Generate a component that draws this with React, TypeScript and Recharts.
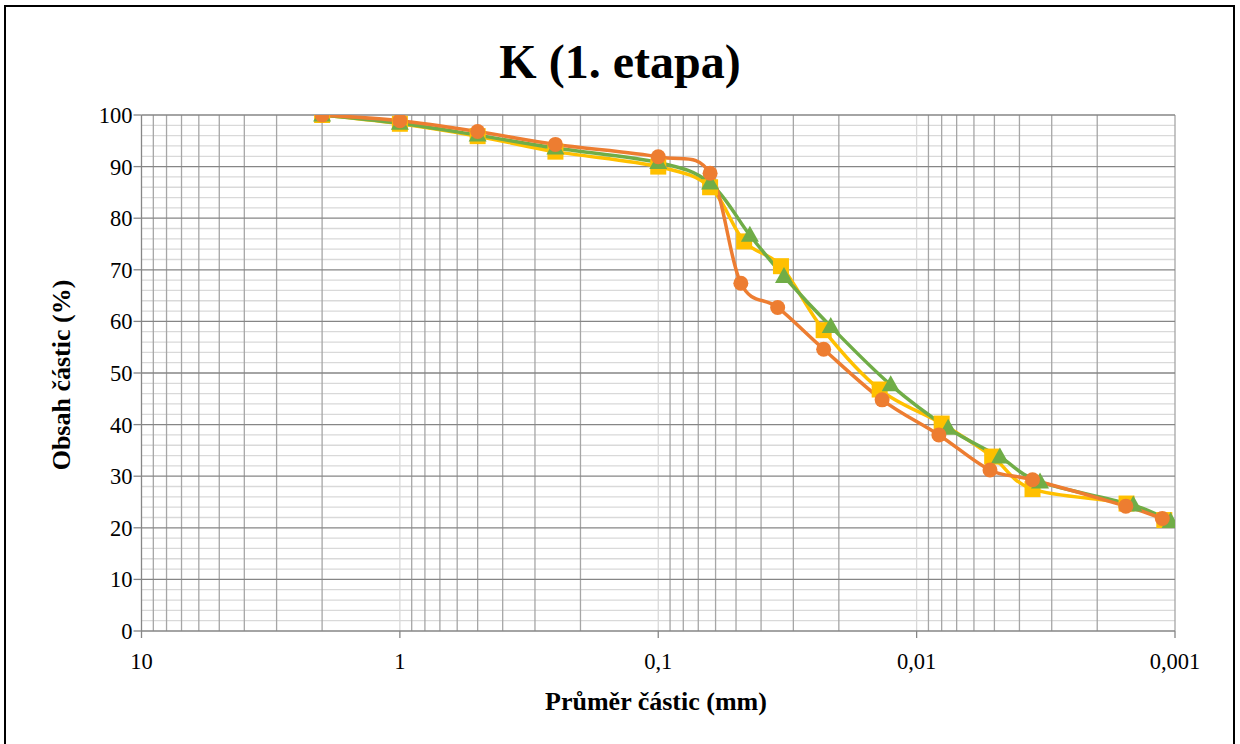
import React from 'react';
import { LineChart, Line, XAxis, YAxis, CartesianGrid } from 'recharts';

// ---- data (particle diameter in mm, content in %) ----
const sieveSizes = [2, 1, 0.5, 0.25, 0.1, 0.063];

const yellowSizes = [...sieveSizes, 0.0465, 0.0335, 0.0229, 0.0139, 0.008, 0.0051, 0.00356, 0.00154, 0.0011];
const yellowValues = [100, 98.3, 95.9, 92.9, 90.0, 86.0, 75.5, 70.7, 58.3, 46.8, 40.2, 33.8, 27.5, 24.7, 21.5];

const orangeSizes = [...sieveSizes, 0.0479, 0.0345, 0.0229, 0.0136, 0.0082, 0.0052, 0.00356, 0.00155, 0.00112];
const orangeValues = [100, 98.9, 96.8, 94.3, 91.9, 88.7, 67.4, 62.7, 54.6, 44.8, 38.0, 31.2, 29.3, 24.2, 21.8];

const greenSizes = [...sieveSizes, 0.0442, 0.0326, 0.0215, 0.0126, 0.00755, 0.00476, 0.00333, 0.00145, 0.00104];
const greenValues = [100, 98.4, 96.1, 93.6, 90.8, 86.8, 76.7, 68.7, 59.0, 47.7, 39.3, 33.7, 28.9, 24.4, 21.2];

const xTicks = [10, 1, 0.1, 0.01, 0.001];
const yTicks = [0, 10, 20, 30, 40, 50, 60, 70, 80, 90, 100];
const decadeLines = [1, 0.1, 0.01];
const minorMultipliers = [2, 3, 4, 5, 6, 7, 8, 9];
const minorDecades = [1, 0.1, 0.01, 0.001];
const yMinor = [2, 4, 6, 8, 12, 14, 16, 18, 22, 24, 26, 28, 32, 34, 36, 38, 42, 44, 46, 48, 52, 54, 56, 58, 62, 64, 66, 68, 72, 74, 76, 78, 82, 84, 86, 88, 92, 94, 96, 98];
const yMajor = [10, 20, 30, 40, 50, 60, 70, 80, 90, 100];

const toSeries = (sizes: number[], values: number[]) => sizes.map((d, i) => ({ d, p: values[i] }));
const yellowData = toSeries(yellowSizes, yellowValues);
const orangeData = toSeries(orangeSizes, orangeValues);
const greenData = toSeries(greenSizes, greenValues);
const xMinor: number[] = [];
minorDecades.forEach((dec) => minorMultipliers.forEach((m) => xMinor.push(+(m * dec).toPrecision(3))));
xMinor.push(0.001);

// Excel-like smoothed line (Catmull-Rom style Bezier)
const excelSmooth = (context: any) => {
  let pts: number[][] = [];
  return {
    areaStart() {},
    areaEnd() {},
    lineStart() {
      pts = [];
    },
    point(x: number, y: number) {
      pts.push([+x, +y]);
    },
    lineEnd() {
      const n = pts.length;
      if (!n) return;
      context.moveTo(pts[0][0], pts[0][1]);
      for (let i = 0; i < n - 1; i++) {
        const p0 = pts[Math.max(0, i - 1)];
        const p1 = pts[i];
        const p2 = pts[i + 1];
        const p3 = pts[Math.min(n - 1, i + 2)];
        const t = 1 / 6;
        context.bezierCurveTo(
          p1[0] + (p2[0] - p0[0]) * t,
          p1[1] + (p2[1] - p0[1]) * t,
          p2[0] - (p3[0] - p1[0]) * t,
          p2[1] - (p3[1] - p1[1]) * t,
          p2[0],
          p2[1]
        );
      }
    },
  };
};

const YELLOW = '#FFC000';
const ORANGE = '#ED7D31';
const GREEN = '#70AD47';

const SquareDot = (props: any) => {
  const { cx, cy, index } = props;
  if (cx == null || cy == null) return <g key={`sq-${index}`} />;
  return <rect key={`sq-${index}`} x={cx - 8} y={cy - 8} width={16} height={16} fill={YELLOW} />;
};

const TriangleDot = (props: any) => {
  const { cx, cy, index } = props;
  if (cx == null || cy == null) return <g key={`tr-${index}`} />;
  return (
    <polygon
      key={`tr-${index}`}
      points={`${cx},${cy - 9.5} ${cx - 9},${cy + 6.5} ${cx + 9},${cy + 6.5}`}
      fill={GREEN}
    />
  );
};

const serif = '"Times New Roman", "Liberation Serif", serif';
const fmt = (v: number) => String(v).replace('.', ',');

export default function App() {
  return (
    <div
      style={{
        position: 'absolute',
        left: 0,
        top: 0,
        width: 1240,
        height: 744,
        overflow: 'hidden',
        background: '#fff',
        fontFamily: serif,
      }}
    >
      <div
        style={{
          position: 'absolute',
          left: 4,
          top: 5,
          width: 1231,
          height: 760,
          border: '2px solid #000',
          boxSizing: 'border-box',
        }}
      />
      <div
        style={{
          position: 'absolute',
          left: 0,
          top: 30,
          width: 1240,
          textAlign: 'center',
          fontSize: 48,
          fontWeight: 'bold',
          lineHeight: '64px',
          fontFamily: serif,
        }}
      >
        K (1. etapa)
      </div>
      <div
        style={{
          position: 'absolute',
          left: 0,
          top: 687,
          width: 1312,
          textAlign: 'center',
          fontSize: 26,
          fontWeight: 'bold',
          lineHeight: '30px',
          fontFamily: serif,
        }}
      >
        Průměr částic (mm)
      </div>
      <div
        style={{
          position: 'absolute',
          left: 62,
          top: 375,
          transform: 'translate(-50%, -50%) rotate(-90deg)',
          fontSize: 26,
          fontWeight: 'bold',
          lineHeight: '30px',
          whiteSpace: 'nowrap',
          fontFamily: serif,
        }}
      >
        Obsah částic (%)
      </div>
      <div style={{ position: 'absolute', left: 0, top: 0 }}>
        <LineChart width={1240} height={744} margin={{ top: 115, right: 65, bottom: 73, left: 81.5 }}>
          <CartesianGrid horizontal={false} vertical stroke="#D9D9D9" strokeWidth={1.3} verticalValues={decadeLines} />
          <CartesianGrid vertical={false} horizontal stroke="#D9D9D9" strokeWidth={1.3} horizontalValues={yMinor} />
          <CartesianGrid horizontal={false} vertical stroke="#A6A6A6" strokeWidth={1.3} verticalValues={xMinor} />
          <CartesianGrid vertical={false} horizontal stroke="#868686" strokeWidth={1.3} horizontalValues={yMajor} />
          <XAxis
            type="number"
            dataKey="d"
            scale="log"
            domain={[0.001, 10]}
            allowDataOverflow
            reversed
            ticks={xTicks}
            interval={0}
            tickFormatter={fmt}
            height={40}
            tickSize={7}
            tickMargin={15}
            axisLine={{ stroke: '#868686', strokeWidth: 1.3 }}
            tickLine={{ stroke: '#868686', strokeWidth: 1.3 }}
            tick={{ fill: '#000', fontSize: 22.5, fontFamily: serif }}
          />
          <YAxis
            type="number"
            dataKey="p"
            domain={[0, 100]}
            allowDataOverflow
            ticks={yTicks}
            interval={0}
            width={60}
            tickSize={8}
            tickMargin={1}
            axisLine={{ stroke: '#868686', strokeWidth: 1.3 }}
            tickLine={{ stroke: '#868686', strokeWidth: 1.3 }}
            tick={{ fill: '#000', fontSize: 22.5, fontFamily: serif }}
          />
          <Line
            data={yellowData}
            dataKey="p"
            type={excelSmooth as any}
            stroke={YELLOW}
            strokeWidth={3.5}
            dot={SquareDot}
            activeDot={false}
            isAnimationActive={false}
          />
          <Line
            data={greenData}
            dataKey="p"
            type={excelSmooth as any}
            stroke={GREEN}
            strokeWidth={3.5}
            dot={TriangleDot}
            activeDot={false}
            isAnimationActive={false}
          />
          <Line
            data={orangeData}
            dataKey="p"
            type={excelSmooth as any}
            stroke={ORANGE}
            strokeWidth={3.5}
            dot={{ r: 7.5, fill: ORANGE, stroke: 'none', strokeWidth: 0 }}
            activeDot={false}
            isAnimationActive={false}
          />
        </LineChart>
      </div>
    </div>
  );
}
